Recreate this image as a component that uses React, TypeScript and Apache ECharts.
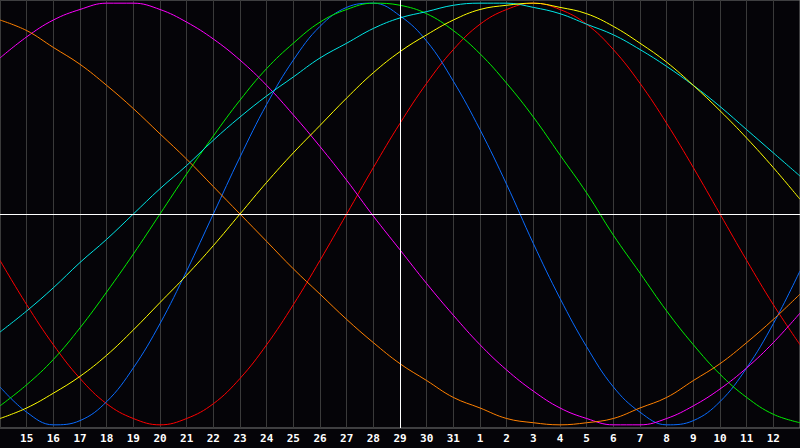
import {useEffect, useRef} from 'react';
import * as echarts from 'echarts';

// days shown on the x axis (first and last are off-label edges)
const days = [
    '14', '15', '16', '17', '18', '19', '20', '21', '22', '23', '24', '25', '26', '27', '28', '29',
    '30', '31', '1', '2', '3', '4', '5', '6', '7', '8', '9', '10', '11', '12', '13',
];
const today = '29';

const physical = [
    -0.82, -0.94, -1.0, -0.98, -0.89, -0.73, -0.52, -0.27, 0, 0.27, 0.52, 0.73, 0.89, 0.98, 1.0, 0.94,
    0.82, 0.63, 0.4, 0.14, -0.14, -0.4, -0.63, -0.82, -0.94, -1.0, -0.98, -0.89, -0.73, -0.52, -0.27,
];
const emotional = [
    -0.22, -0.43, -0.62, -0.78, -0.9, -0.97, -1.0, -0.97, -0.9, -0.78, -0.62, -0.43, -0.22, 0, 0.22, 0.43,
    0.62, 0.78, 0.9, 0.97, 1.0, 0.97, 0.9, 0.78, 0.62, 0.43, 0.22, 0, -0.22, -0.43, -0.62,
];
const intellectual = [
    -0.91, -0.81, -0.69, -0.54, -0.37, -0.19, 0, 0.19, 0.37, 0.54, 0.69, 0.81, 0.91, 0.97, 1.0, 0.99,
    0.95, 0.87, 0.76, 0.62, 0.46, 0.28, 0.1, -0.1, -0.28, -0.46, -0.62, -0.76, -0.87, -0.95, -0.99,
];
const intuitive = [
    0.74, 0.84, 0.92, 0.97, 1.0, 1.0, 0.97, 0.91, 0.83, 0.73, 0.61, 0.47, 0.32, 0.16, -0.01, -0.17,
    -0.33, -0.48, -0.62, -0.74, -0.84, -0.92, -0.97, -1.0, -1.0, -0.97, -0.91, -0.83, -0.73, -0.61, -0.47,
];
const aesthetic = [
    -0.97, -0.92, -0.85, -0.77, -0.67, -0.55, -0.42, -0.29, -0.15, 0, 0.15, 0.29, 0.42, 0.55, 0.67, 0.77,
    0.85, 0.92, 0.97, 0.99, 1.0, 0.98, 0.95, 0.89, 0.81, 0.72, 0.61, 0.49, 0.36, 0.22, 0.07,
];
const awareness = [
    0.92, 0.87, 0.79, 0.71, 0.61, 0.5, 0.38, 0.26, 0.13, 0, -0.13, -0.26, -0.38, -0.5, -0.61, -0.71,
    -0.79, -0.87, -0.92, -0.97, -0.99, -1.0, -0.99, -0.97, -0.92, -0.87, -0.79, -0.71, -0.61, -0.5, -0.38,
];
const spiritual = [
    -0.56, -0.46, -0.35, -0.23, -0.12, 0, 0.12, 0.23, 0.35, 0.46, 0.56, 0.65, 0.74, 0.81, 0.88, 0.93,
    0.96, 0.99, 1.0, 1.0, 0.98, 0.95, 0.9, 0.85, 0.78, 0.7, 0.61, 0.51, 0.4, 0.29, 0.18,
];

const cycles = [
    {name: 'Emotional', data: emotional, color: '#ff0000'},
    {name: 'Physical', data: physical, color: '#0a6cff'},
    {name: 'Intellectual', data: intellectual, color: '#00ee00'},
    {name: 'Intuitive', data: intuitive, color: '#ff00ff'},
    {name: 'Awareness', data: awareness, color: '#ff8000'},
    {name: 'Spiritual', data: spiritual, color: '#00e6e6'},
    {name: 'Aesthetic', data: aesthetic, color: '#ffff00'},
];

const App = () => {
    const chartRef = useRef<HTMLDivElement>(null);

    useEffect(() => {
        const myChart = echarts.init(chartRef.current!, null, {renderer: 'svg'});

        myChart.setOption({
            animation: false,
            backgroundColor: '#050408',
            grid: {left: 0, right: 0, top: 0, bottom: 20, show: true, borderColor: '#7a7a7a', borderWidth: 1},
            xAxis: {
                type: 'category',
                data: days,
                boundaryGap: false,
                axisLine: {show: true, lineStyle: {color: '#a8a8a8', width: 1}},
                axisTick: {show: false},
                axisLabel: {
                    interval: (index: number) => index > 0 && index < days.length - 1,
                    color: '#ffffff',
                    fontWeight: 'bold',
                    fontSize: 11,
                    fontFamily: 'DejaVu Sans Mono',
                    margin: 5,
                },
                splitLine: {show: true, interval: 0, lineStyle: {color: '#3a3a3a', width: 1}},
            },
            yAxis: {
                type: 'value',
                min: -1.015,
                max: 1.015,
                show: false,
                splitLine: {show: false},
            },
            series: cycles.map((c, i) => ({
                name: c.name,
                type: 'line',
                data: c.data,
                smooth: 0.4,
                symbol: 'none',
                lineStyle: {color: c.color, width: 1},
                z: 3,
                markLine:
                    i === 0
                        ? {
                              silent: true,
                              symbol: 'none',
                              label: {show: false},
                              lineStyle: {color: '#ffffff', width: 1, type: 'solid'},
                              data: [{yAxis: 0}, {xAxis: today}],
                          }
                        : undefined,
            })),
        });

        return () => {
            myChart.dispose();
        };
    }, []);

    return <div ref={chartRef} style={{position: 'fixed', left: 0, top: 0, width: '800px', height: '448px'}} />;
};

export default App;
